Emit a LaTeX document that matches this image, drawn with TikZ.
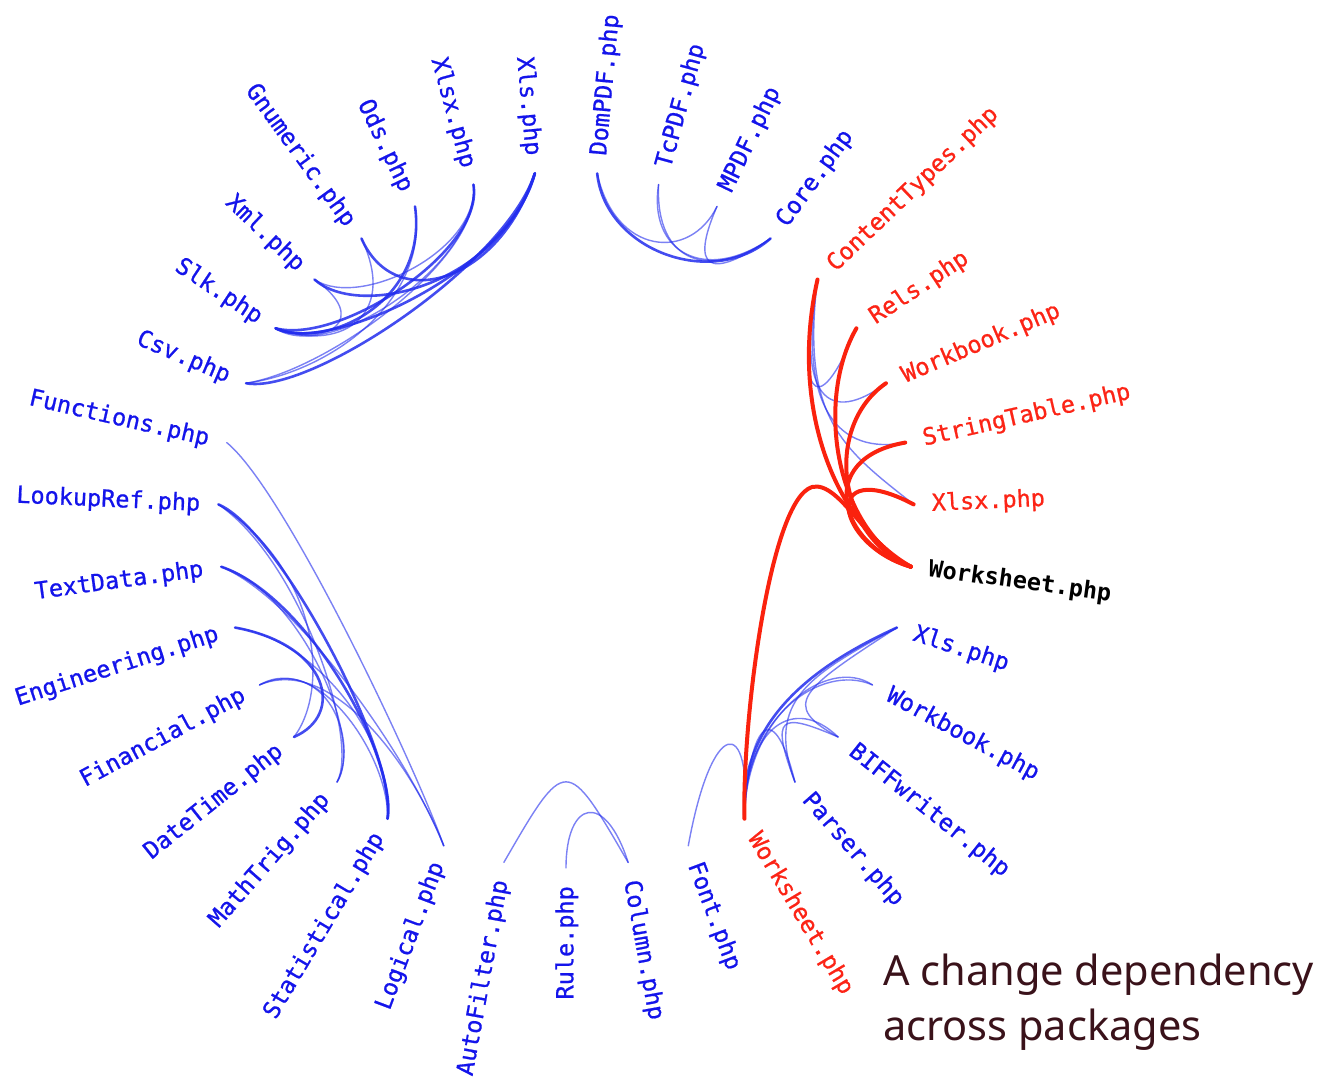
\documentclass[tikz,border=0pt]{standalone}
\usepackage{fontspec}
\newfontfamily\labfont{DejaVu Sans Mono}[FakeBold=0.8]
\newfontfamily\labfontbold{DejaVu Sans Mono Bold}
\newfontfamily\titlefont{Noto Sans}
\usetikzlibrary{calc}

\definecolor{lblue}{RGB}{20,20,235}
\definecolor{lred}{RGB}{252,36,22}
\definecolor{eblue}{RGB}{35,45,238}
\definecolor{ered}{RGB}{250,34,14}
\definecolor{ttl}{RGB}{58,18,26}

% leaf on the right half: label reads outwards from the circle
\newcommand\leafR[4]{%
  \coordinate (#1) at ($(ctr)+(-#2:348)$);
  \node[lab, anchor=west, rotate=#2, text=#4] (#1-l) at (#1) {#3};}
% leaf on the left half: label turned over so it reads left to right
\newcommand\leafL[4]{%
  \coordinate (#1) at ($(ctr)+(-#2:348)$);
  \node[lab, anchor=east, rotate=#2+180, text=#4] (#1-l) at (#1) {#3};}

\begin{document}
\begin{tikzpicture}[x=1pt, y=-1pt,
  lab/.style={font=\labfont\fontsize{23.5}{23.5}\selectfont,
    inner xsep=18pt, inner ysep=0pt, text height=17.6pt, text depth=3pt},
  e/.style={draw=eblue, line width=1.4pt, opacity=.6, line cap=round},
  E/.style={draw=eblue, line width=2.6pt, opacity=.85, line cap=round},
  hot/.style={draw=ered, line width=4pt, line cap=round},
  ttlstyle/.style={font=\titlefont\fontsize{41.5}{50}\selectfont, text=ttl,
    inner sep=0pt, anchor=base west}]

\fill[white] (0,0) rectangle (1325,1080);
\useasboundingbox (0,0) rectangle (1325,1080);
\coordinate (ctr) at (566,520);

% ---- leaves, 35 of them, 360/35 degrees apart ----
\leafL{rule}{270}{Rule.php}{lblue}
\leafR{column}{280.286}{Column.php}{lblue}
\leafR{font}{290.571}{Font.php}{lblue}
\leafR{wsr}{300.857}{Worksheet.php}{lred}
\leafR{parser}{311.143}{Parser.php}{lblue}
\leafR{biff}{321.429}{BIFFwriter.php}{lblue}
\leafR{wbx}{331.714}{Workbook.php}{lblue}
\leafR{wxls}{342}{Xls.php}{lblue}
\leafR{wsb}{352.286}{\labfontbold Worksheet.php}{black}
\leafR{xlsxr}{2.571}{Xlsx.php}{lred}
\leafR{strt}{12.857}{StringTable.php}{lred}
\leafR{wbr}{23.143}{Workbook.php}{lred}
\leafR{rels}{33.429}{Rels.php}{lred}
\leafR{ct}{43.714}{ContentTypes.php}{lred}
\leafR{core}{54}{Core.php}{lblue}
\leafR{mpdf}{64.286}{MPDF.php}{lblue}
\leafR{tcpdf}{74.571}{TcPDF.php}{lblue}
\leafR{dompdf}{84.857}{DomPDF.php}{lblue}
\leafL{rdxls}{95.143}{Xls.php}{lblue}
\leafL{rdxlsx}{105.429}{Xlsx.php}{lblue}
\leafL{ods}{115.714}{Ods.php}{lblue}
\leafL{gnum}{126}{Gnumeric.php}{lblue}
\leafL{xml}{136.286}{Xml.php}{lblue}
\leafL{slk}{146.571}{Slk.php}{lblue}
\leafL{csv}{156.857}{Csv.php}{lblue}
\leafL{func}{167.143}{Functions.php}{lblue}
\leafL{lookup}{177.429}{LookupRef.php}{lblue}
\leafL{textd}{187.714}{TextData.php}{lblue}
\leafL{eng}{198}{Engineering.php}{lblue}
\leafL{fin}{208.286}{Financial.php}{lblue}
\leafL{datet}{218.571}{DateTime.php}{lblue}
\leafL{matht}{228.857}{MathTrig.php}{lblue}
\leafL{stat}{239.143}{Statistical.php}{lblue}
\leafL{logic}{249.429}{Logical.php}{lblue}
\leafL{autof}{259.714}{AutoFilter.php}{lblue}

% ---- reader bundle ----
\draw[E] (csv) .. controls (310,395) and (505,265) .. (rdxls);
\draw[E] (slk) .. controls (325,355) and (510,272) .. (rdxls);
\draw[E] (xml) .. controls (360,320) and (500,285) .. (rdxls);
\draw[E] (gnum) .. controls (395,315) and (500,282) .. (rdxls);
\draw[E] (rdxlsx) .. controls (485,250) and (340,345) .. (slk);
\draw[e] (rdxlsx) .. controls (485,255) and (330,370) .. (csv);
\draw[e] (rdxlsx) .. controls (480,250) and (360,310) .. (xml);
\draw[E] (ods) .. controls (428,300) and (330,350) .. (slk);
\draw[e] (ods) .. controls (430,300) and (330,372) .. (csv);
\draw[e] (xml) .. controls (370,318) and (330,348) .. (slk);
\draw[e] (gnum) .. controls (400,320) and (335,352) .. (slk);
\draw[e] (slk) .. controls (330,365) and (480,262) .. (rdxlsx);

% ---- pdf bundle ----
\draw[E] (dompdf) .. controls (605,250) and (712,290) .. (core);
\draw[e] (tcpdf) .. controls (648,252) and (705,284) .. (core);
\draw[e] (tcpdf) .. controls (655,265) and (712,280) .. (core);
\draw[e] (mpdf) .. controls (690,262) and (615,255) .. (dompdf);
\draw[e] (mpdf) .. controls (690,268) and (708,282) .. (core);

% ---- xlsx writer bundle ----
\draw[e] (ct) .. controls (795,390) and (815,430) .. (rels);
\draw[e] (ct) .. controls (795,400) and (830,425) .. (wbr);
\draw[e] (ct) .. controls (797,410) and (840,455) .. (strt);
\draw[e] (ct) .. controls (800,420) and (845,450) .. (xlsxr);

% ---- xls writer bundle ----
\draw[E] (wxls) .. controls (815,665) and (738,720) .. (wsr);
\draw[e] (wbx) .. controls (820,662) and (742,720) .. (wsr);
\draw[e] (wbx) .. controls (828,655) and (745,715) .. (wsr);
\draw[e] (biff) .. controls (795,695) and (745,725) .. (wsr);
\draw[e] (biff) .. controls (780,705) and (800,690) .. (wxls);
\draw[e] (biff) .. controls (780,712) and (770,715) .. (parser);
\draw[e] (parser) .. controls (772,690) and (748,730) .. (wsr);
\draw[e] (parser) .. controls (765,700) and (810,675) .. (wxls);
\draw[e] (font) .. controls (712,715) and (752,715) .. (wsr);

% ---- autofilter bundle ----
\draw[e] (autof) .. controls (566,755) and (566,755) .. (column);
\draw[e] (rule) .. controls (566,800) and (605,790) .. (column);

% ---- calculation bundle ----
\draw[e] (func) .. controls (285,490) and (415,765) .. (logic);
\draw[E] (lookup) .. controls (280,530) and (400,760) .. (stat);
\draw[e] (textd) .. controls (300,590) and (365,740) .. (matht);
\draw[E] (textd) .. controls (305,595) and (395,750) .. (stat);
\draw[E] (eng) .. controls (330,645) and (345,715) .. (datet);
\draw[e] (eng) .. controls (320,640) and (395,745) .. (stat);
\draw[e] (fin) .. controls (320,650) and (390,760) .. (stat);
\draw[e] (fin) .. controls (325,655) and (360,740) .. (matht);
\draw[e] (fin) .. controls (330,655) and (410,760) .. (logic);
\draw[e] (datet) .. controls (330,690) and (320,570) .. (lookup);
\draw[e] (matht) .. controls (360,740) and (300,560) .. (lookup);
\draw[e] (logic) .. controls (410,760) and (300,600) .. (textd);

% ---- edges touched by the change ----
\draw[hot] (ct) .. controls (790,400) and (830,520) .. (wsb);
\draw[hot] (rels) .. controls (815,400) and (835,530) .. (wsb);
\draw[hot] (wbr) .. controls (825,425) and (835,535) .. (wsb);
\draw[hot] (strt) .. controls (815,458) and (838,545) .. (wsb);
\draw[hot] (xlsxr) .. controls (820,455) and (835,545) .. (wsb);
\draw[hot] (wsr) .. controls (742,720) and (770,500) .. (812,487)
               .. controls (840,480) and (870,550) .. (wsb);

% ---- caption ----
\node[ttlstyle] (title1) at (883,985) {A change dependency};
\node[ttlstyle] (title2) at (883,1040) {across packages};
\end{tikzpicture}
\end{document}
